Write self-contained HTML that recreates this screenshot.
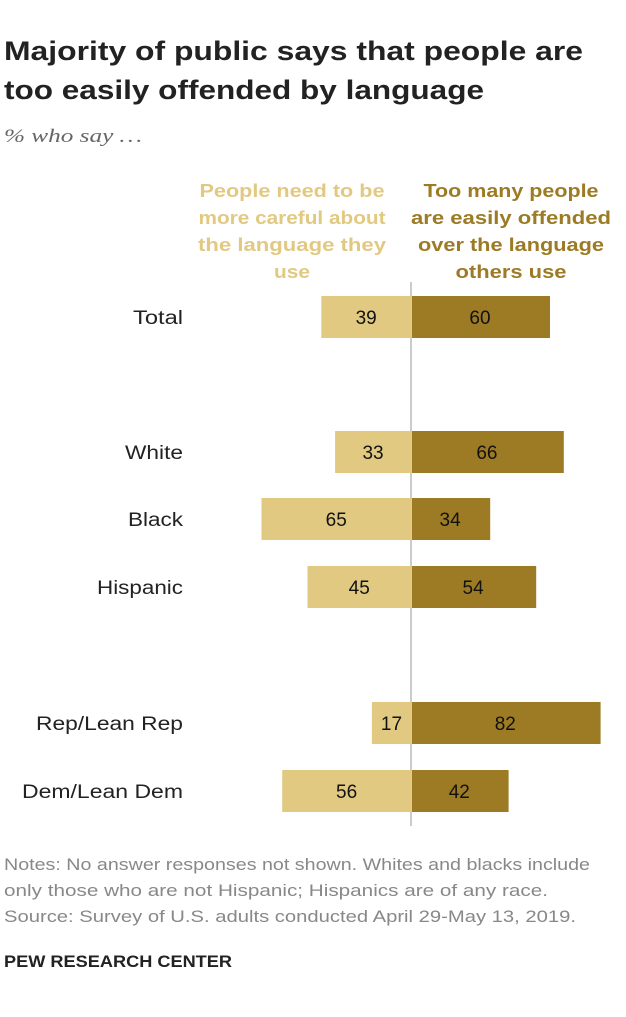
<!DOCTYPE html>
<html><head><meta charset="utf-8"><style>
body{margin:0;background:#fff;width:626px;height:1012px;overflow:hidden;font-family:"Liberation Sans",sans-serif}
</style></head><body>
<svg width="626" height="1012" font-family="Liberation Sans, sans-serif">
<text x="4" y="60" font-size="27" font-weight="bold" fill="#222" textLength="579" lengthAdjust="spacingAndGlyphs">Majority of public says that people are</text>
<text x="4" y="99" font-size="27" font-weight="bold" fill="#222" textLength="480" lengthAdjust="spacingAndGlyphs">too easily offended by language</text>
<text x="4" y="142" font-size="19" font-style="italic" font-family="Liberation Serif, serif" fill="#666" textLength="138" lengthAdjust="spacingAndGlyphs">% who say …</text>
<g font-size="18.5" font-weight="bold" text-anchor="middle" fill="#E2C982">
<text x="292" y="197" textLength="185" lengthAdjust="spacingAndGlyphs">People need to be</text><text x="292" y="224" textLength="187" lengthAdjust="spacingAndGlyphs">more careful about</text><text x="292" y="251" textLength="188" lengthAdjust="spacingAndGlyphs">the language they</text><text x="292" y="278" textLength="36" lengthAdjust="spacingAndGlyphs">use</text></g>
<g font-size="18.5" font-weight="bold" text-anchor="middle" fill="#9C7B24">
<text x="511" y="197" textLength="175" lengthAdjust="spacingAndGlyphs">Too many people</text><text x="511" y="224" textLength="200" lengthAdjust="spacingAndGlyphs">are easily offended</text><text x="511" y="251" textLength="186" lengthAdjust="spacingAndGlyphs">over the language</text><text x="511" y="278" textLength="111" lengthAdjust="spacingAndGlyphs">others use</text></g>
<line x1="411" x2="411" y1="282" y2="826" stroke="#ccc" stroke-width="2"/>
<g id="bars"></g>
<g font-size="16.5" fill="#888">
<text x="4" y="870" textLength="586" lengthAdjust="spacingAndGlyphs">Notes: No answer responses not shown. Whites and blacks include</text>
<text x="4" y="896" textLength="544" lengthAdjust="spacingAndGlyphs">only those who are not Hispanic; Hispanics are of any race.</text>
<text x="4" y="922" textLength="572" lengthAdjust="spacingAndGlyphs">Source: Survey of U.S. adults conducted April 29-May 13, 2019.</text></g>
<text x="4" y="967" font-size="16.5" font-weight="bold" fill="#222" textLength="228" lengthAdjust="spacingAndGlyphs">PEW RESEARCH CENTER</text>
</svg>
<script>
const categories=["Total","White","Black","Hispanic","Rep/Lean Rep","Dem/Lean Dem"];
const careful=[39,33,65,45,17,56];
const offended=[60,66,34,54,82,42];
const rowY=[317,452,519,587,723,791];
const labelW=[50,58,55,86,147,161];
const cx=411,k=2.3,h=42;
const g=document.getElementById('bars');const NS="http://www.w3.org/2000/svg";
function mk(t,a){const e=document.createElementNS(NS,t);for(const n in a)e.setAttribute(n,a[n]);return e;}
categories.forEach((c,i)=>{const y=rowY[i];
const l=mk('text',{x:183,y:y+7,'font-size':19,'text-anchor':'end',fill:'#222',textLength:labelW[i],lengthAdjust:'spacingAndGlyphs'});l.textContent=c;

g.appendChild(l);
const wl=careful[i]*k;const r1=mk('rect',{x:cx-wl,y:y-h/2,width:wl,height:h,fill:'#E2C982'});

g.appendChild(r1);
const wr=offended[i]*k;const r2=mk('rect',{x:cx+1,y:y-h/2,width:wr,height:h,fill:'#9C7B24'});

g.appendChild(r2);
const t1=mk('text',{x:cx-wl/2,y:y+7,'font-size':19,'text-anchor':'middle',fill:'#111'});t1.textContent=careful[i];

g.appendChild(t1);
const t2=mk('text',{x:cx+wr/2,y:y+7,'font-size':19,'text-anchor':'middle',fill:'#111'});t2.textContent=offended[i];

g.appendChild(t2);
});
</script>
</body></html>
